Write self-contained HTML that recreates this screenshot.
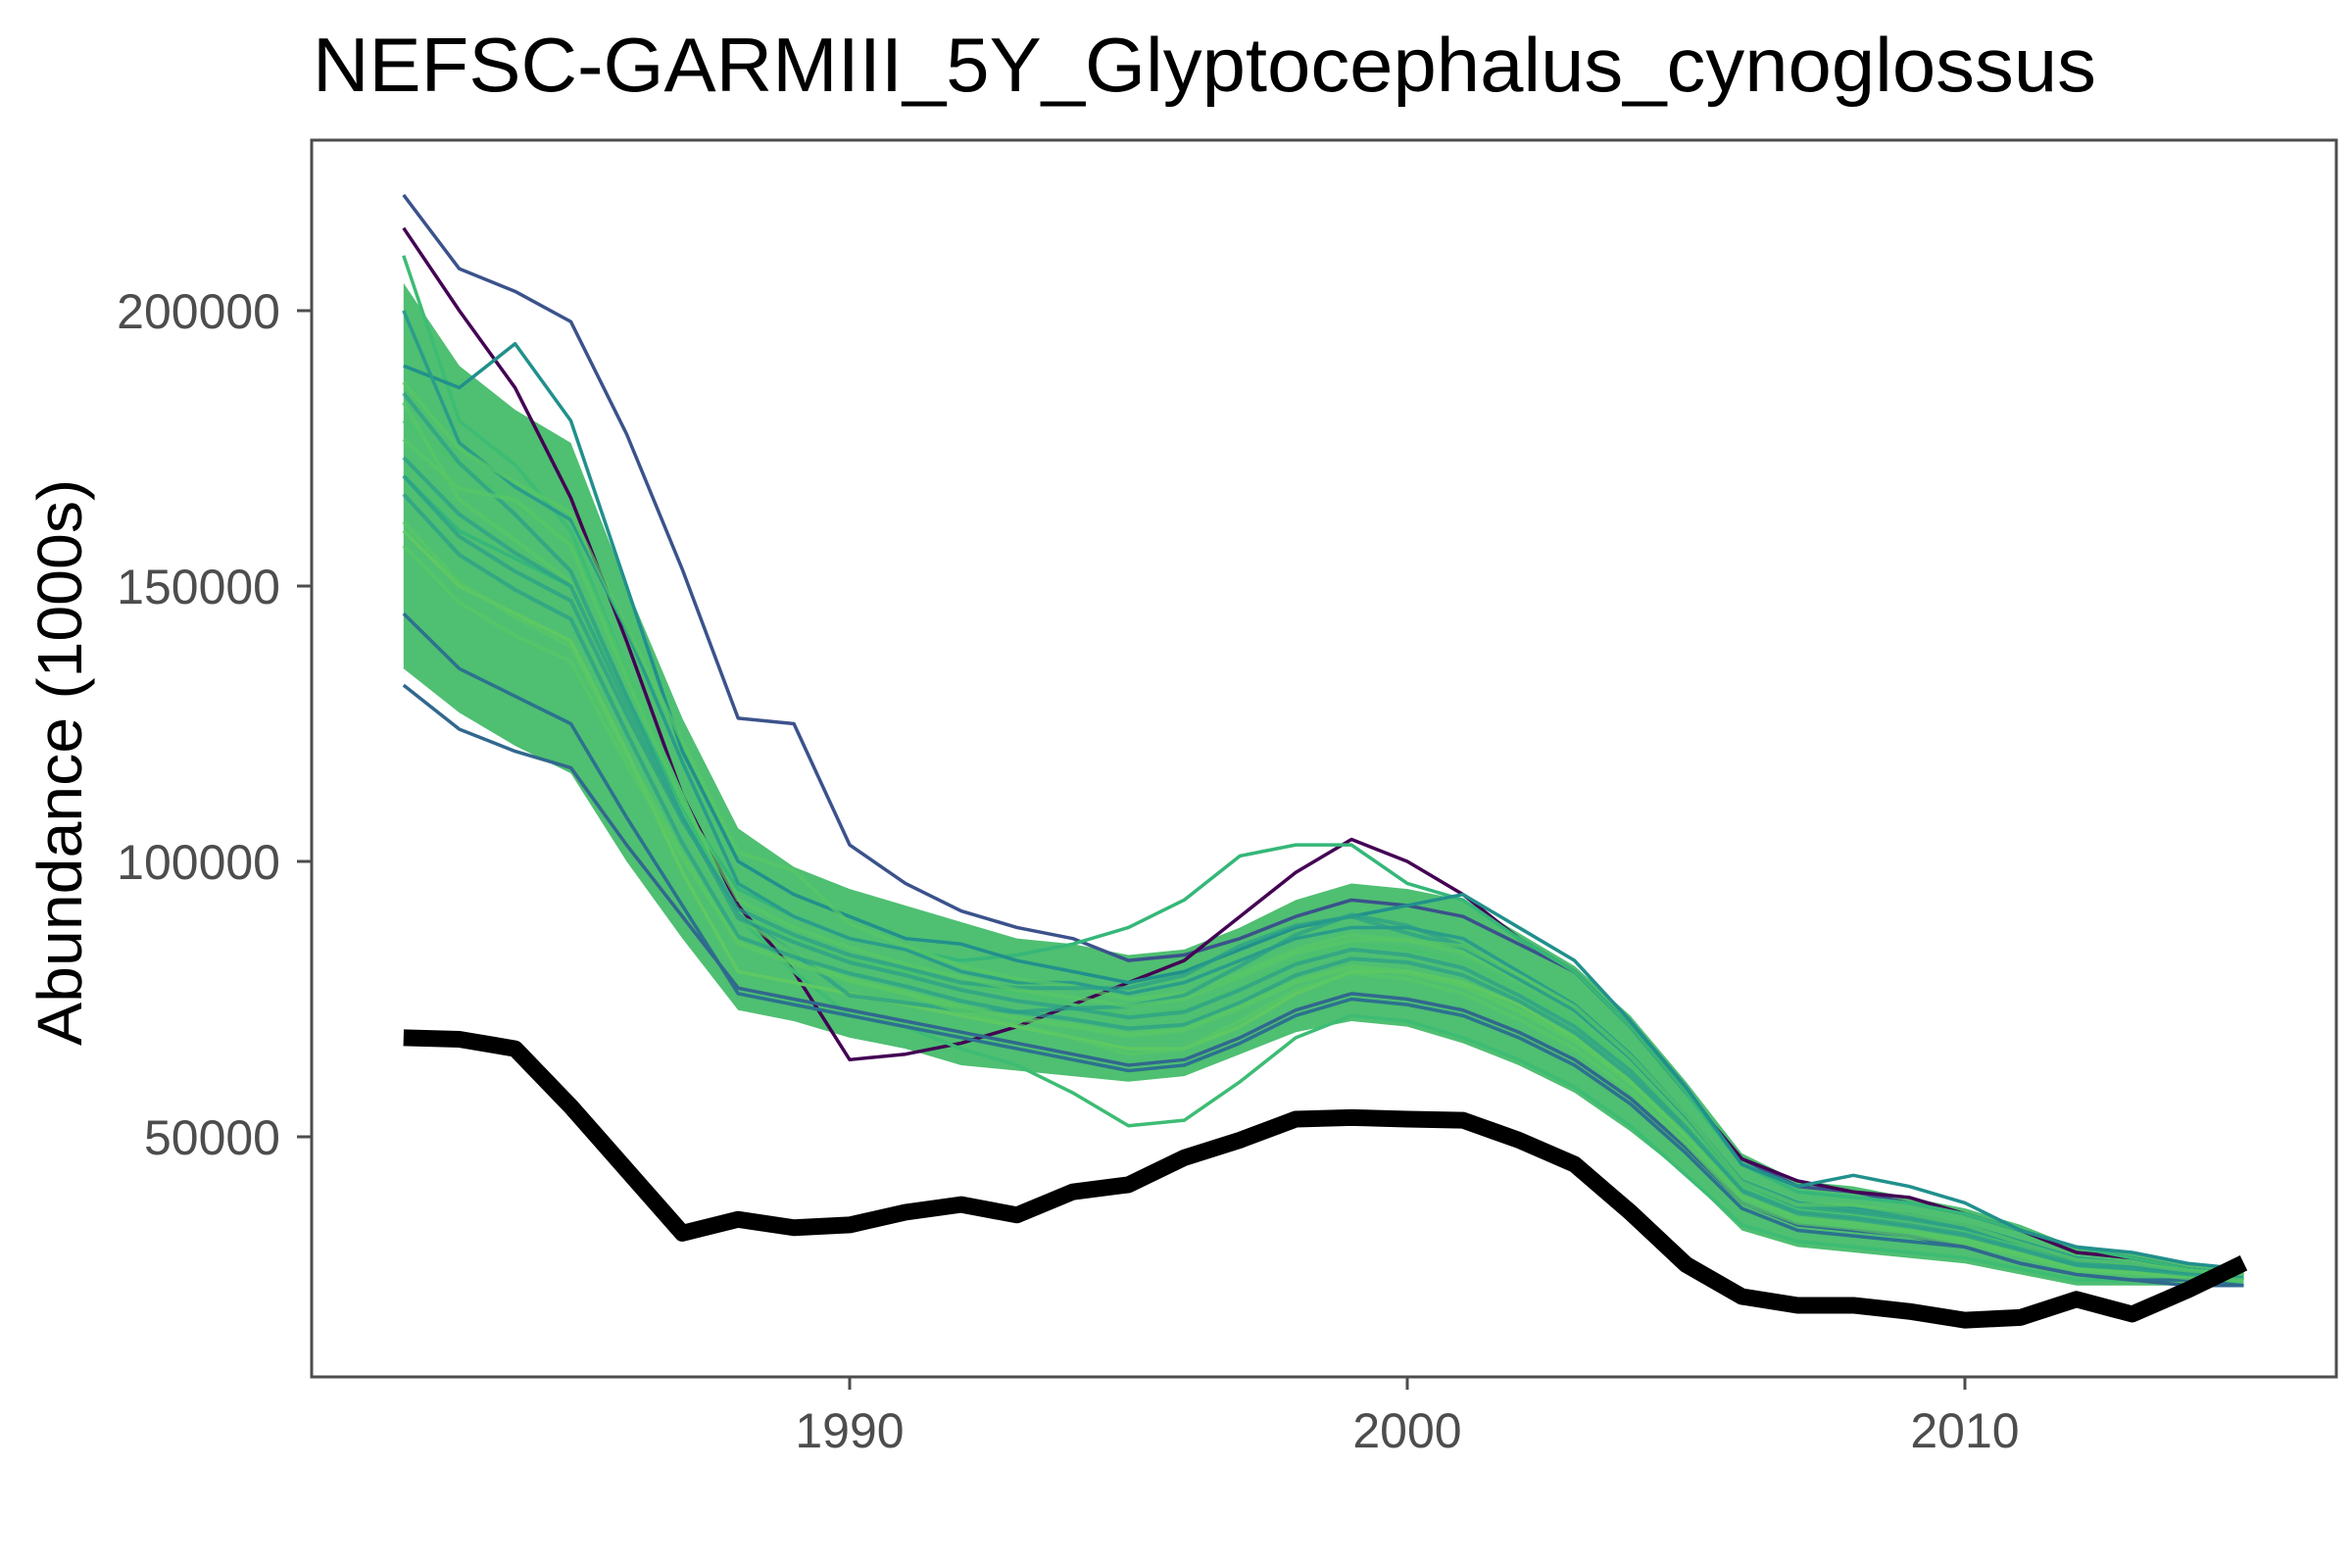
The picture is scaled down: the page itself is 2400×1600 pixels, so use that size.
<!DOCTYPE html>
<html><head><meta charset="utf-8"><style>
html,body{margin:0;padding:0;background:#fff}
svg{display:block}
text{font-family:"Liberation Sans",Arial,sans-serif}
</style></head><body>
<svg id="chart" width="2400" height="1600" viewBox="0 0 2400 1600" xmlns="http://www.w3.org/2000/svg">
<rect x="0" y="0" width="2400" height="1600" fill="#fff"/>
<text x="319" y="93" font-size="78" fill="#000" textLength="1820" lengthAdjust="spacingAndGlyphs">NEFSC-GARMIII_5Y_Glyptocephalus_cynoglossus</text>
<text transform="translate(83,778) rotate(-90)" text-anchor="middle" font-size="64" fill="#000" textLength="578" lengthAdjust="spacingAndGlyphs">Abundance (1000s)</text>
<g id="plot"></g>
<rect x="318" y="143" width="2066" height="1262" fill="none" stroke="#4d4d4d" stroke-width="3"/>
<g id="axes"></g>
</svg>
<script>
const years=[1982,1983,1984,1985,1986,1987,1988,1989,1990,1991,1992,1993,1994,1995,1996,1997,1998,1999,2000,2001,2002,2003,2004,2005,2006,2007,2008,2009,2010,2011,2012,2013,2014,2015];
const observed=[68000,67700,66000,55500,44000,32500,35000,33500,34000,36300,37700,35800,40000,41300,46200,49400,53200,53500,53200,53000,49400,45000,36300,26800,21000,19400,19400,18300,16700,17200,20500,17800,22200,27100];
const bandUpper=[205000,190000,182000,176000,150000,126000,106000,99000,95000,92000,89000,86000,85000,83000,84000,88000,93000,96000,95000,93000,87000,81000,72000,60000,47000,42000,41000,39000,37000,34000,30000,29000,27000,26000];
const bandLower=[135000,127000,121000,116000,100000,86000,73000,71000,68000,66000,63000,62000,61000,60000,61000,65000,69000,71000,70000,67000,63000,58000,51000,43000,33000,30000,29000,28000,27000,25000,23000,23000,23000,23000];
const simA=[221000,207600,203500,198000,177600,153000,126000,125000,103000,96000,91000,88000,86000,82000,83000,86000,90000,93000,92000,90000,85000,80000,70000,58000,46000,41000,40000,38000,36000,33000,30000,28000,26000,25000];
const simB=[215000,200000,186000,166000,140000,112000,92000,80000,64000,65000,67000,70000,74000,78000,82000,90000,98000,104000,100000,94000,86000,80000,70000,58000,46000,42000,40000,39000,36000,33000,29000,28000,26000,25000];
const simC=[210000,180000,172000,160000,135000,110000,90000,80000,72000,70000,66000,63000,58000,52000,53000,60000,68000,72000,71000,68000,64000,59000,52000,43000,34000,31000,30000,29000,28000,26000,24000,24000,24000,24000];
const simD=[170000,160000,155000,150000,130000,110000,95000,90000,86000,84000,82000,83000,85000,88000,93000,101000,103000,103000,96000,93000,86000,80000,70000,58000,45000,40000,39000,38000,36000,33000,30000,28000,26000,25000];
const simE=[190000,186000,194000,180000,150000,120000,100000,94000,90000,86000,85000,82000,80000,78000,80000,84000,88000,90000,92000,94000,88000,82000,71000,59000,45000,41000,43000,41000,38000,33000,30000,29000,27000,26000];
const simF=[160000,150000,145000,140000,120000,98000,80000,78000,76000,74000,72000,70000,68000,66000,66000,70000,76000,80000,80000,78000,74000,68000,60000,50000,40000,36000,35000,34000,32000,29000,27000,26000,25000,24000];
const simG=[145000,135000,130000,125000,108000,92000,76000,74000,72000,70000,68000,66000,64000,62000,63000,67000,72000,75000,74000,72000,68000,63000,56000,47000,37000,33000,32000,31000,30000,27000,25000,24000,24000,23000];
const simH=[180000,172000,165000,158000,135000,112000,90000,86000,82000,80000,78000,76000,74000,72000,73000,77000,82000,85000,84000,82000,77000,71000,63000,52000,41000,37000,36000,35000,33000,30000,27000,26000,25000,24000];
const simI=[132000,124000,120000,117000,103000,90000,77000,75000,73000,71000,69000,67000,65000,63000,64000,68000,73000,76000,75000,73000,69000,64000,57000,48000,38000,34000,33000,32000,30000,27000,25000,24000,23000,23000];
const simJ=[200000,176000,168000,162000,142000,118000,96000,90000,86000,84000,80000,78000,78000,76000,78000,82000,86000,88000,88000,86000,80000,74000,65000,54000,42000,38000,37000,36000,34000,31000,28000,27000,25000,24000];
const sims=[simA,simB,simC,simD,simE,simF,simG,simH,simI,simJ];
const simColors=["#3b528b","#440154","#3dbc74","#35b779","#21908c","#5ec962","#2c728e","#4ac16d","#31688e","#2a9d8a"];
const xTicks=[1990,2000,2010];
const yTicks=[50000,100000,150000,200000];

const NS="http://www.w3.org/2000/svg";
const x=yr=>867+(yr-1990)*56.9;
const y=v=>317+(200000-v)/50000*281;
const plot=document.getElementById('plot');
const axes=document.getElementById('axes');
function mk(tag,attrs,parent){const e=document.createElementNS(NS,tag);for(const k in attrs)e.setAttribute(k,attrs[k]);parent.appendChild(e);return e;}
function pts(arr){return arr.map((v,i)=>x(years[i])+','+y(v)).join(' ');}

const bandPts=bandUpper.map((v,i)=>x(years[i])+','+y(v)).concat(bandLower.map((v,i)=>x(years[i])+','+y(v)).reverse()).join(' ');
const band=mk('polygon',{points:bandPts,fill:'#4fbf72'},plot);



sims.forEach((s,i)=>{
  const l=mk('polyline',{points:pts(s),fill:'none',stroke:simColors[i],'stroke-width':3.5,'stroke-linejoin':'round'},plot);
  
  
});
for(let k=0;k<sims.length-1;k++){
  const mid=sims[k].map((v,i)=>(v+bandLower[i]+bandUpper[i])/3);
  const l=mk('polyline',{points:pts(mid),fill:'none',stroke:k%2?'#2a9d8a':'#58c765','stroke-width':4,'stroke-opacity':0.7},plot);
  
  
}
const obs=mk('polyline',{points:pts(observed),fill:'none',stroke:'#000','stroke-width':17,'stroke-linejoin':'round'},plot);



xTicks.forEach(t=>{
  const tk=mk('line',{x1:x(t),x2:x(t),y1:1405,y2:1418,stroke:'#4d4d4d','stroke-width':3},axes);
  
  
  const lb=mk('text',{x:x(t),y:1477,'text-anchor':'middle','font-size':50,fill:'#4d4d4d'},axes);
  lb.textContent=t;
  
  
});
yTicks.forEach(t=>{
  const tk=mk('line',{x1:303,x2:318,y1:y(t),y2:y(t),stroke:'#4d4d4d','stroke-width':3},axes);
  
  
  const lb=mk('text',{x:286,y:y(t)+18,'text-anchor':'end','font-size':50,fill:'#4d4d4d'},axes);
  lb.textContent=t;
  
  
});
</script>
</body></html>
